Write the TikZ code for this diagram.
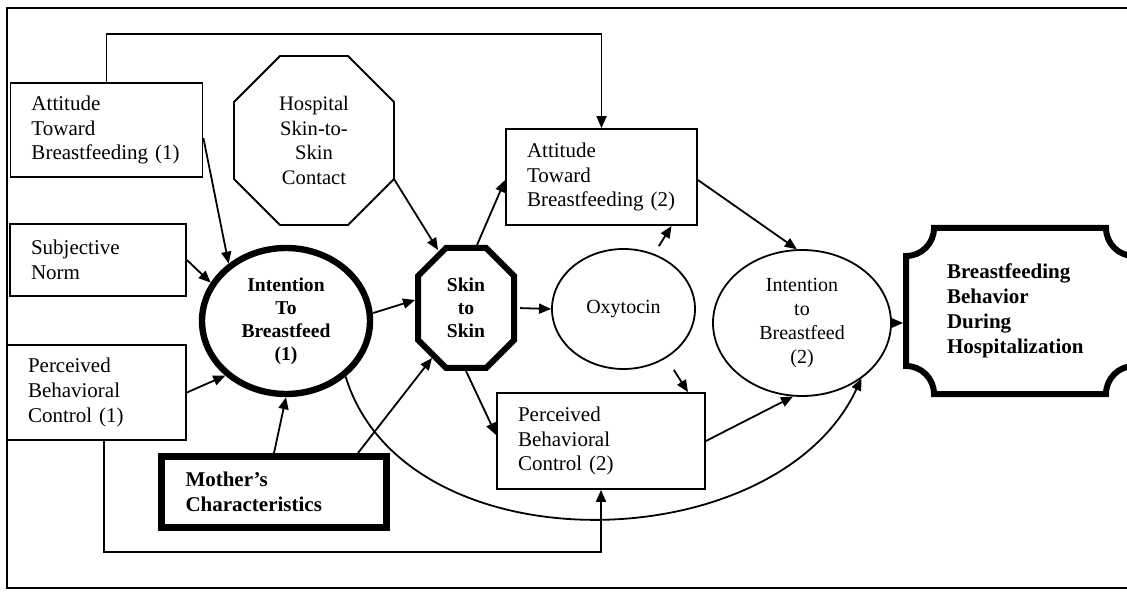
\documentclass[tikz,border=0pt]{standalone}
\usepackage{fontspec}
\setmainfont{Liberation Serif}
\usepackage{tikz}
\usetikzlibrary{shapes}
\usetikzlibrary{arrows.meta}
\tikzset{
  model_node/.style = {align=left, inner ysep=0pt,
    font=\fontsize{10.5pt}{12.3pt}\selectfont},% texte des boites
  plain_box/.style = {model_node, rectangle, draw=black, line width=0.9pt,
    inner xsep=10.5pt},% boite simple
  bold_box/.style = {model_node, rectangle, draw=black, line width=3.5pt,
    inner xsep=12pt, font=\fontsize{10.5pt}{12.5pt}\selectfont\bfseries},% boite epaisse
  plain_oval/.style = {ellipse, draw=black, line width=0.9pt, align=center,
    inner sep=0pt, font=\fontsize{10pt}{12pt}\selectfont},% ovale simple
  bold_oval/.style = {plain_oval, line width=3.2pt,
    font=\fontsize{9.8pt}{11.5pt}\selectfont\bfseries},% ovale epais
  octo_node/.style = {rectangle, outer sep=0pt, align=center, inner sep=0pt,
    font=\fontsize{10.3pt}{12.2pt}\selectfont},% octogone, trace a part
  link/.style = {-{Triangle[length=6pt,width=5pt]}, line width=0.9pt}% fleche
}
\begin{document}
\begin{tikzpicture}[x=0.5pt, y=-0.5pt]
  \useasboundingbox (0,0) rectangle (1127,592);
  \clip (0,0) rectangle (1127,592);
  \draw [line width=1pt] (7,8) rectangle (1140,588);

  % colonne de gauche
  \node [plain_box, text width=75pt, minimum height=47pt] (att_one) at (106.5,130)
    {Attitude\\Toward\\Breastfeeding~(1)};
  \node [plain_box, text width=67pt, minimum height=36pt] (subj_norm) at (98,260)
    {Subjective\\Norm};
  \node [plain_box, text width=68.5pt, minimum height=47.5pt] (pbc_one) at (96.5,392.5)
    {Perceived\\Behavioral\\Control~(1)};
  \node [bold_box, text width=88.5pt, minimum height=35.5pt] (mother) at (274,492)
    {Mother’s\\Characteristics};

  % centre
  \node [octo_node, minimum width=80pt, minimum height=84.5pt] (hosp) at (314,140.5)
    {Hospital\\Skin-to-\\Skin\\Contact};
  \node [bold_oval, minimum width=84pt, minimum height=73pt] (int_one) at (286,321)
    {Intention\\To\\Breastfeed\\(1)};
  \node [octo_node, minimum width=48pt, minimum height=60pt,
    font=\fontsize{9.8pt}{11.5pt}\selectfont\bfseries] (skin) at (466,308)
    {Skin\\to\\Skin};
  \foreach \n/\c/\w in {hosp/23pt/0.9pt, skin/14pt/3pt}
    \draw [line width=\w] ([xshift=\c]\n.north west) -- ([xshift=-\c]\n.north east)
      -- ([yshift=-\c]\n.north east) -- ([yshift=\c]\n.south east)
      -- ([xshift=-\c]\n.south east) -- ([xshift=\c]\n.south west)
      -- ([yshift=\c]\n.south west) -- ([yshift=-\c]\n.north west) -- cycle;
  \node [plain_oval, minimum width=71.5pt, minimum height=60pt] (oxy) at (623.5,309)
    {Oxytocin};
  \node [plain_box, text width=74.5pt, minimum height=48pt] (att_two) at (601.5,177)
    {Attitude\\Toward\\Breastfeeding~(2)};
  \node [plain_box, text width=83pt, minimum height=48pt] (pbc_two) at (601,441)
    {Perceived\\Behavioral\\Control~(2)};

  % droite
  \node [plain_oval, minimum width=89pt, minimum height=73pt] (int_two) at (802,323)
    {Intention\\to\\Breastfeed\\(2)};
  \node [model_node, outer sep=0pt, text width=73pt, inner xsep=20.5pt,
    minimum height=83pt, font=\fontsize{10.5pt}{12.5pt}\selectfont\bfseries]
    (behav) at (1020,311)
    {Breastfeeding\\Behavior\\During\\Hospitalization};
  \draw [line width=3pt] ([xshift=14pt]behav.north west) -- ([xshift=-14pt]behav.north east)
    arc[start angle=180, end angle=270, radius=14pt] -- ([yshift=14pt]behav.south east)
    arc[start angle=90, end angle=180, radius=14pt] -- ([xshift=14pt]behav.south west)
    arc[start angle=0, end angle=90, radius=14pt] -- ([yshift=-14pt]behav.north west)
    arc[start angle=270, end angle=360, radius=14pt] -- cycle;

  % fleches
  \draw [link] ([yshift=-4pt]att_one.east) -- (int_one.135);
  \draw [link] (subj_norm.east) -- (int_one.153);
  \draw [link] (pbc_one.east) -- (int_one.222);
  \draw [link] (mother.north) -- (int_one.south);
  \draw [link] ([xshift=42pt]mother.north) -- ([xshift=-17pt,yshift=-25pt]skin.center);
  \draw [link] ([yshift=23pt]hosp.south east) -- ([xshift=-14pt,yshift=-1pt]skin.north);
  \draw [link] ([yshift=4pt]int_one.east) -- ([xshift=-1.5pt,yshift=4pt]skin.west);
  \draw [link] ([xshift=5.5pt,yshift=1.5pt]skin.north) -- ([yshift=-1.5pt]att_two.west);
  \draw [link, shorten <=1.5pt] ([xshift=1.5pt]skin.east) -- (oxy.west);
  \draw [link] ([yshift=-1.5pt]skin.south) -- ([yshift=3pt]pbc_two.west);
  \draw [link, shorten <=4.5pt] (oxy.61) -- ([xshift=35pt]att_two.south);
  \draw [link, shorten <=7pt] (oxy.311) -- ([xshift=43.5pt]pbc_two.north);
  \draw [link] ([yshift=-1.5pt]att_two.east) -- (int_two.94);
  \draw [link] (pbc_two.east) -- (int_two.263);
  \draw [link] (int_two.east) -- ([xshift=-1.5pt]int_two.east -| behav.west);
  \draw [link] (int_one.317) to[out=-73, in=245] (int_two.317);
  \draw [link] ([xshift=3.75pt]pbc_one.south) -- ++(0,111) -| (pbc_two.south);
  \draw [link] (att_one.north) -- ++(0,-48) -| (att_two.north);
\end{tikzpicture}
\end{document}
